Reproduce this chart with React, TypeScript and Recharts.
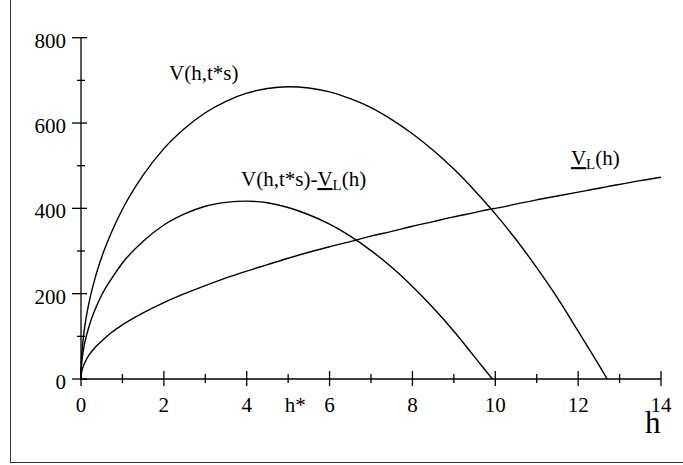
import React from 'react';
import { LineChart, Line, XAxis, YAxis, ReferenceDot } from 'recharts';

// h values along the horizontal axis
const hGrid = [
  0, 0.01, 0.03, 0.06, 0.1, 0.2, 0.35, 0.5, 0.75, 1, 1.5, 2, 2.5, 3, 3.5, 4, 4.5, 5, 5.5, 6, 6.5, 7,
  7.5, 8, 8.5, 9, 9.5, 9.93, 10, 10.5, 11, 11.5, 12, 12.5, 12.7, 13, 13.5, 14,
];

// V(h,t*s)
const vTotal = [
  0, 41, 70, 100, 129, 182, 240, 286, 347, 398, 478, 540, 587, 624, 651, 670, 681, 685, 682, 673,
  657, 636, 608, 575, 536, 492, 442, 395, 387, 327, 261, 190, 112, 33, 0, null, null, null,
];

// V_L(h)
const vLimit = [
  0, 13, 22, 31, 40, 57, 75, 89, 110, 127, 155, 179, 200, 219, 237, 253, 268, 283, 297, 310, 322,
  335, 346, 358, 369, 380, 390, 399, 400, 410, 420, 429, 438, 447, 451, 456, 465, 473,
];

// V(h,t*s) - V_L(h)
const vDiff = [
  0, 28, 49, 69, 89, 125, 165, 197, 237, 272, 323, 361, 387, 405, 414, 417, 413, 402, 385, 363, 335,
  301, 262, 217, 167, 112, 52, 0, null, null, null, null, null, null, null, null, null, null,
];

const xTicks = [0, 1, 2, 3, 4, 5, 6, 7, 8, 9, 10, 11, 12, 13, 14];
const yTicks = [0, 100, 200, 300, 400, 500, 600, 700, 800];
const hStar = 5.17;

const data = hGrid.map((h, i) => ({
  h,
  total: vTotal[i],
  limit: vLimit[i],
  diff: vDiff[i],
}));

const FONT = '"Liberation Serif", "Times New Roman", serif';
const textStyle = { fontFamily: FONT };

function XTick(props: any) {
  const { x, y, payload } = props;
  const v = payload.value;
  if (v === hStar) {
    return (
      <text x={x} y={y + 33} textAnchor="middle" style={textStyle} fontSize={21} fill="#000">
        h*
      </text>
    );
  }
  const major = v % 2 === 0;
  return (
    <g>
      <line x1={x} x2={x} y1={y - (major ? 8 : 5)} y2={y + (major ? 7 : 4)} stroke="#000" strokeWidth={1.3} />
      {major && (
        <text x={x} y={y + 33} textAnchor="middle" style={textStyle} fontSize={21} fill="#000">
          {v}
        </text>
      )}
    </g>
  );
}

function YTick(props: any) {
  const { x, y, payload } = props;
  const v = payload.value;
  const major = v % 200 === 0;
  return (
    <g>
      <line x1={x - (major ? 9 : 4)} x2={x + (major ? 6 : 4)} y1={y} y2={y} stroke="#000" strokeWidth={1.3} />
      {major && (
        <text x={x - 15} y={y + 10} textAnchor="end" style={textStyle} fontSize={21} fill="#000">
          {v}
        </text>
      )}
    </g>
  );
}

function BigH(props: any) {
  const vb = props.viewBox;
  return (
    <text x={vb.x + vb.width - 16} y={vb.y + 54} style={textStyle} fontSize={31} fill="#000">
      h
    </text>
  );
}

function labelAt(parts: React.ReactNode) {
  return (props: any) => {
    const vb = props.viewBox;
    return (
      <text x={vb.x} y={vb.y} style={textStyle} fontSize={21} fill="#000">
        {parts}
      </text>
    );
  };
}

const totalLabel = labelAt(<tspan>V(h,t*s)</tspan>);
const diffLabel = labelAt(
  <>
    <tspan>V(h,t*s)-</tspan>
    <tspan style={{ textDecoration: 'underline' }}>V</tspan>
    <tspan fontSize={15} dy={4}>L</tspan>
    <tspan dy={-4}>(h)</tspan>
  </>
);
const limitLabel = labelAt(
  <>
    <tspan style={{ textDecoration: 'underline' }}>V</tspan>
    <tspan fontSize={15} dy={4}>L</tspan>
    <tspan dy={-4}>(h)</tspan>
  </>
);

export default function App() {
  return (
    <div
      style={{
        position: 'absolute',
        left: 0,
        top: 0,
        width: 683,
        height: 465,
        overflow: 'hidden',
        background: '#fff',
      }}
    >
      <div
        style={{
          position: 'absolute',
          left: 10,
          top: 0,
          width: 673,
          height: 462,
          borderLeft: '1px solid #333',
          borderBottom: '1px solid #333',
        }}
      />
      <LineChart
        width={683}
        height={465}
        data={data}
        margin={{ top: 37.7, right: 22, bottom: 36, left: 0 }}
        style={{ position: 'absolute', left: 0, top: 0 }}
      >
        <XAxis
          dataKey="h"
          type="number"
          domain={[0, 14]}
          ticks={[...xTicks, hStar]}
          interval={0}
          height={50}
          tickSize={0}
          tickMargin={0}
          tickLine={false}
          tick={<XTick />}
          axisLine={{ stroke: '#000', strokeWidth: 1.3 }}
          label={{ content: BigH }}
        />
        <YAxis
          type="number"
          domain={[0, 800]}
          ticks={yTicks}
          interval={0}
          width={81}
          tickSize={0}
          tickMargin={0}
          tickLine={false}
          tick={<YTick />}
          axisLine={{ stroke: '#000', strokeWidth: 1.3 }}
        />
        <Line dataKey="total" type="monotone" stroke="#000" strokeWidth={1.4} dot={false} isAnimationActive={false} />
        <Line dataKey="diff" type="monotone" stroke="#000" strokeWidth={1.4} dot={false} isAnimationActive={false} />
        <Line dataKey="limit" type="monotone" stroke="#000" strokeWidth={1.4} dot={false} isAnimationActive={false} />
        <ReferenceDot x={2.15} y={698} r={1} fill="none" stroke="none" label={totalLabel} />
        <ReferenceDot x={3.886} y={450} r={1} fill="none" stroke="none" label={diffLabel} />
        <ReferenceDot x={11.85} y={499} r={1} fill="none" stroke="none" label={limitLabel} />
      </LineChart>
    </div>
  );
}
